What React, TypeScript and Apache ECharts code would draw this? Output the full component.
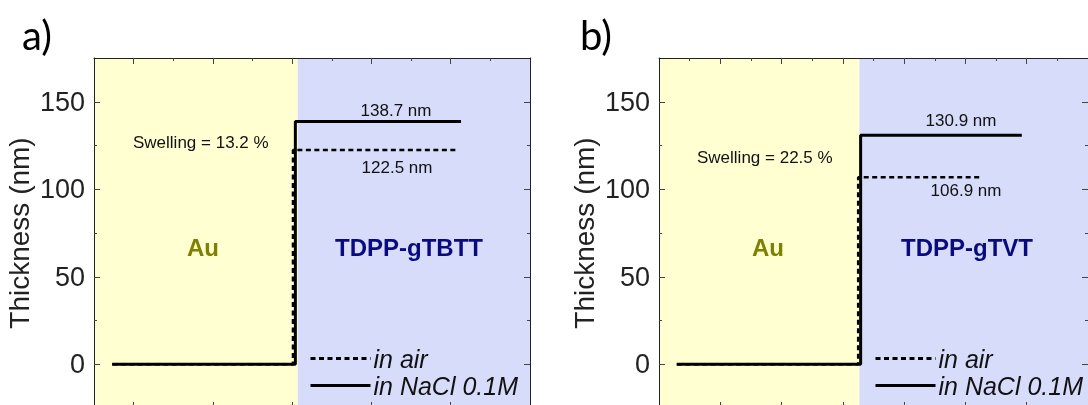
import React, { useEffect, useRef } from "react";
import * as echarts from "echarts";

// ---------- data ----------
const panelLetters = ["a)", "b)"];
const materials = ["TDPP-gTBTT", "TDPP-gTVT"];
const substrate = "Au";
const seriesNames = ["in air", "in NaCl 0.1M"];
const thicknessAir = [122.5, 106.9];
const thicknessNaCl = [138.7, 130.9];
const swelling = [13.2, 22.5];

// x positions (arbitrary scan units) of each profile
const xMaxA = 5.5;
const xMaxB = 7;
const boundaryA = 2.57;
const boundaryB = 3.27;
const naclXA = [0.23, 2.54, 2.54, 4.63];
const naclYA = [0, 0, 138.7, 138.7];
const airXA = [0.23, 2.51, 2.51, 4.58];
const airYA = [0, 0, 122.5, 122.5];
const naclXB = [0.29, 3.29, 3.29, 5.92];
const naclYB = [0, 0, 130.9, 130.9];
const airXB = [0.29, 3.25, 3.25, 5.26];
const airYB = [0, 0, 106.9, 106.9];

const yMin = -25;
const yMax = 175;
const yLabelTicks = [0, 50, 100, 150];
const yMinorTicks = [25, 75, 125];
const xMajorA = [0.5, 1.5, 2.5, 3.5, 4.5];
const xMinorA = [1, 2, 3, 4, 5];
const xMajorB = [1, 2, 3, 4, 5, 6];
const xMinorB = [0.5, 1.5, 2.5, 3.5, 4.5, 5.5, 6.5];

// ---------- styles ----------
const FONT = '"Liberation Sans", Arial, sans-serif';
const YELLOW = "#FFFFD2";
const BLUE = "#D6DCFA";
const AXIS = "#222222";

const zip = (xs: number[], ys: number[]) => xs.map((x, i) => [x, ys[i]]);

function xAxisDef(grid: number, position: string, max: number, values: number[], len: number, line: boolean) {
  return {
    type: "value",
    gridIndex: grid,
    position,
    min: 0,
    max,
    z: 6,
    axisLine: { show: line, onZero: false, lineStyle: { color: AXIS, width: 1 } },
    axisTick: { show: true, inside: true, length: len, customValues: values, lineStyle: { color: "#444", width: 1 } },
    axisLabel: { show: false },
    splitLine: { show: false },
  };
}

function yAxisDef(grid: number, position: string, values: number[], len: number, line: boolean, labels: boolean) {
  return {
    type: "value",
    gridIndex: grid,
    position,
    min: yMin,
    max: yMax,
    interval: 25,
    z: 6,
    name: labels ? "Thickness (nm)" : "",
    nameLocation: "middle",
    nameGap: 61,
    nameTextStyle: { fontSize: 28, color: AXIS, fontFamily: FONT },
    axisLine: { show: line, onZero: false, lineStyle: { color: AXIS, width: 1 } },
    axisTick: { show: true, inside: true, length: len, customValues: values, lineStyle: { color: "#444", width: 1 } },
    axisLabel: {
      show: labels,
      fontSize: 27,
      color: AXIS,
      fontFamily: FONT,
      margin: 9,
      formatter: (v: number) => (yLabelTicks.indexOf(v) >= 0 ? String(v) : ""),
    },
    splitLine: { show: false },
  };
}

function panelSeries(axisIdx: number, xMax: number, boundary: number, nacl: number[][], air: number[][]) {
  return [
    {
      type: "line",
      name: "bg",
      xAxisIndex: axisIdx,
      yAxisIndex: axisIdx,
      data: [],
      z: 1,
      silent: true,
      markArea: {
        silent: true,
        data: [
          [{ xAxis: 0, itemStyle: { color: YELLOW } }, { xAxis: boundary }],
          [{ xAxis: boundary, itemStyle: { color: BLUE } }, { xAxis: xMax }],
        ],
      },
    },
    {
      type: "line",
      name: seriesNames[1],
      xAxisIndex: axisIdx,
      yAxisIndex: axisIdx,
      data: nacl,
      symbol: "none",
      z: 3,
      lineStyle: { color: "#000", width: 3, type: "solid" },
      itemStyle: { color: "#000" },
    },
    {
      type: "line",
      name: seriesNames[0],
      xAxisIndex: axisIdx,
      yAxisIndex: axisIdx,
      data: air,
      symbol: "none",
      z: 4,
      lineStyle: { color: "#000", width: 2.5, type: [5, 3.5] },
      itemStyle: { color: "#000" },
    },
  ];
}

function legendDef(left: number) {
  return {
    left,
    top: 340,
    orient: "vertical",
    itemWidth: 60,
    itemHeight: 14,
    itemGap: 0,
    data: [seriesNames[0], seriesNames[1]],
    selectedMode: false,
    itemStyle: { opacity: 0 },
    lineStyle: { width: 3, type: "inherit", color: "#000" },
    textStyle: { fontSize: 25, fontStyle: "italic", color: "#111", fontFamily: FONT, lineHeight: 27, padding: [0, 0, 0, -2] },
  };
}

function txt(x: number, y: number, text: string, size: number, opts: any = {}) {
  return {
    type: "text",
    x,
    y,
    z: 20,
    silent: true,
    style: {
      text,
      fontSize: size,
      fontFamily: opts.family || FONT,
      fontWeight: opts.weight || "normal",
      fill: opts.fill || "#111",
      textAlign: opts.align || "center",
      textVerticalAlign: "middle",
    },
  };
}

export default function App() {
  const ref = useRef<HTMLDivElement>(null);
  useEffect(() => {
    if (!ref.current) return;
    const chart = echarts.init(ref.current, null, { renderer: "svg" });
    const option: any = {
      animation: false,
      grid: [
        { left: 94, top: 58, width: 436, height: 350 },
        { left: 659, top: 58, width: 436, height: 350 },
      ],
      xAxis: [
        xAxisDef(0, "bottom", xMaxA, xMajorA, 6, true),
        xAxisDef(0, "bottom", xMaxA, xMinorA, 3, false),
        xAxisDef(0, "top", xMaxA, xMajorA, 6, true),
        xAxisDef(0, "top", xMaxA, xMinorA, 3, false),
        xAxisDef(1, "bottom", xMaxB, xMajorB, 6, true),
        xAxisDef(1, "bottom", xMaxB, xMinorB, 3, false),
        xAxisDef(1, "top", xMaxB, xMajorB, 6, true),
        xAxisDef(1, "top", xMaxB, xMinorB, 3, false),
      ],
      yAxis: [
        yAxisDef(0, "left", yLabelTicks, 6, true, true),
        yAxisDef(0, "left", yMinorTicks, 3, false, false),
        yAxisDef(0, "right", yLabelTicks, 6, true, false),
        yAxisDef(0, "right", yMinorTicks, 3, false, false),
        yAxisDef(1, "left", yLabelTicks, 6, true, true),
        yAxisDef(1, "left", yMinorTicks, 3, false, false),
        yAxisDef(1, "right", yLabelTicks, 6, true, false),
        yAxisDef(1, "right", yMinorTicks, 3, false, false),
      ],
      legend: [legendDef(304), legendDef(869)],
      series: [
        ...panelSeries(0, xMaxA, boundaryA, zip(naclXA, naclYA), zip(airXA, airYA)),
        ...panelSeries(4, xMaxB, boundaryB, zip(naclXB, naclYB), zip(airXB, airYB)),
      ],
      graphic: [
        txt(22, 35, panelLetters[0], 40, { family: "Lato", align: "left", fill: "#000" }),
        txt(580, 35, panelLetters[1], 40, { family: "Lato", align: "left", fill: "#000" }),
        txt(133, 142, `Swelling = ${swelling[0].toFixed(1)} %`, 17, { align: "left" }),
        txt(396, 110, `${thicknessNaCl[0].toFixed(1)} nm`, 17),
        txt(397, 167, `${thicknessAir[0].toFixed(1)} nm`, 17),
        txt(203, 247, substrate, 24, { weight: "bold", fill: "#7F7F00" }),
        txt(409, 247, materials[0], 24, { weight: "bold", fill: "#0A0A80" }),
        txt(697, 157, `Swelling = ${swelling[1].toFixed(1)} %`, 17, { align: "left" }),
        txt(961, 120, `${thicknessNaCl[1].toFixed(1)} nm`, 17),
        txt(966, 190, `${thicknessAir[1].toFixed(1)} nm`, 17),
        txt(768, 247, substrate, 24, { weight: "bold", fill: "#7F7F00" }),
        txt(967, 247, materials[1], 24, { weight: "bold", fill: "#0A0A80" }),
      ],
    };
    chart.setOption(option);
    return () => chart.dispose();
  }, []);
  return <div ref={ref} style={{ position: "fixed", left: 0, top: 0, width: 1088, height: 420 }} />;
}
